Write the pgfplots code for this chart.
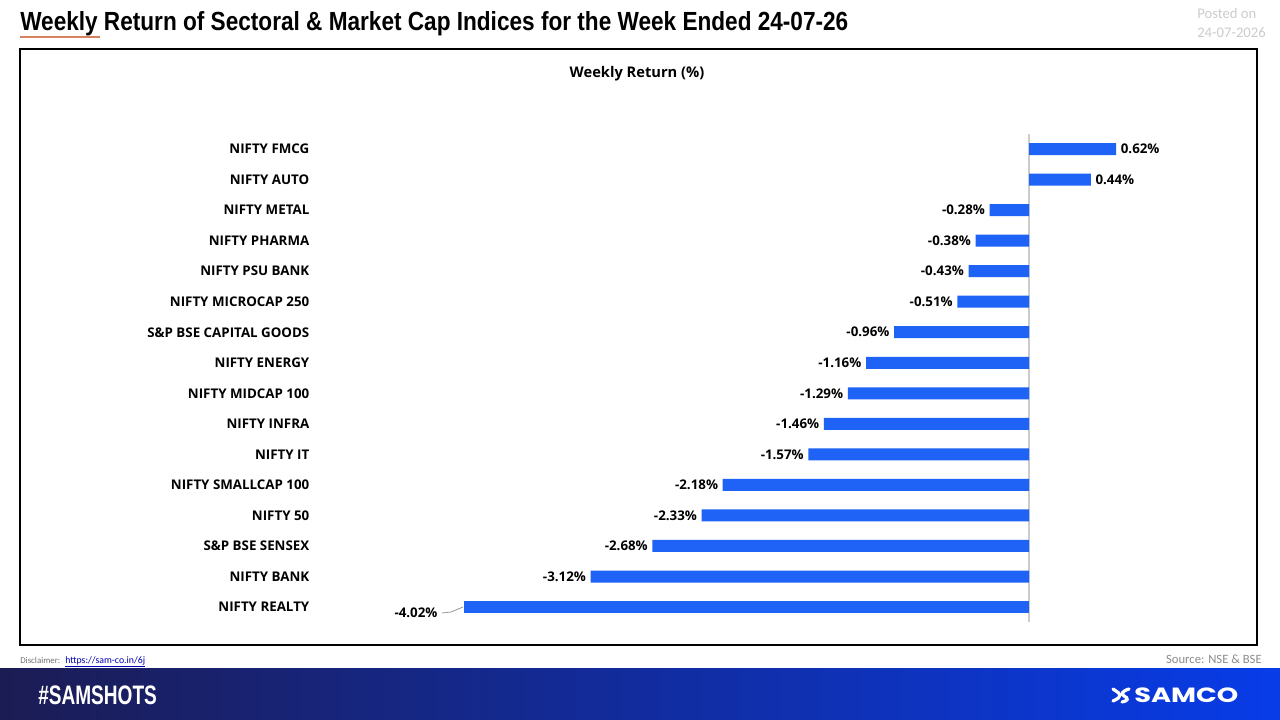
\documentclass[border=0pt]{standalone}
\usepackage{pgfplots}
\pgfplotsset{compat=1.18}
\usepackage{fontspec}
\setmainfont{Open Sans}
\newfontfamily\arialfont{Liberation Sans}
\newfontfamily\calfont{Carlito}
\newfontfamily\popfont{Poppins}
\definecolor{barblue}{RGB}{31,99,246}
\definecolor{ulorange}{RGB}{217,128,96}
\definecolor{navyL}{RGB}{28,28,84}
\definecolor{blueR}{RGB}{8,60,232}
\begin{document}
\begin{tikzpicture}[x=0.75pt,y=-0.75pt]
\useasboundingbox (0,0) rectangle (1280,720);
\fill[white] (0,0) rectangle (1280,720);
\coordinate (axpos) at (330,622.3);
% title
\node[anchor=base west, inner sep=0] at (20,31) {\resizebox{621pt}{14.25pt}{\arialfont\bfseries Weekly Return of Sectoral \& Market Cap Indices for the Week Ended 24-07-26}};
\draw[ulorange, line width=1pt] (20,37) -- (100,37);
\node[anchor=base west, inner sep=0, text=black!20, font=\calfont\fontsize{11}{12}\selectfont] at (1197,19) {Posted on};
\node[anchor=base west, inner sep=0, text=black!20, font=\calfont\fontsize{11}{12}\selectfont] at (1197,38) {24-07-2026};
% frame
\draw[black, line width=1.1pt] (20,49) rectangle (1257,645);
\node[anchor=base, inner sep=0, font=\bfseries\fontsize{11}{13}\selectfont] at (637,78) {Weekly Return (\%)};
% chart
\begin{axis}[at={(axpos)}, anchor=south west, scale only axis,
  width=675pt, height=366.4pt,
  xmin=-4.975, xmax=1.4306, ymin=-0.5, ymax=15.5,
  xbar, bar width=9pt,
  axis line style={draw=none}, clip=false,
  xtick=\empty, ytick={0,...,15}, major tick length=0pt,
  yticklabels={NIFTY REALTY,NIFTY BANK,S\&P BSE SENSEX,NIFTY 50,NIFTY SMALLCAP 100,NIFTY IT,NIFTY INFRA,NIFTY MIDCAP 100,NIFTY ENERGY,S\&P BSE CAPITAL GOODS,NIFTY MICROCAP 250,NIFTY PSU BANK,NIFTY PHARMA,NIFTY METAL,NIFTY AUTO,NIFTY FMCG},
  yticklabel style={font=\bfseries\fontsize{10}{12}\selectfont, xshift=-12pt},
  point meta=x,
  nodes near coords={\pgfmathprintnumber[fixed,fixed zerofill,precision=2,assume math mode=true]{\pgfplotspointmeta}\%},
  every node near coord/.append style={font=\bfseries\fontsize{10}{12}\selectfont, text=black},
]
\draw[black!20, line width=0.8pt] (axis cs:0,-0.5) -- (axis cs:0,15.5);
\addplot[fill=barblue, draw=none, bar shift=0pt] coordinates {
(-3.12,1) (-2.68,2) (-2.33,3) (-2.18,4) (-1.57,5) (-1.46,6) (-1.29,7) (-1.16,8)
(-0.96,9) (-0.51,10) (-0.43,11) (-0.38,12) (-0.28,13) (0.44,14) (0.62,15)
};
\addplot[fill=barblue, draw=none, bar shift=0pt,
  every node near coord/.append style={xshift=-16.5pt, yshift=-4.5pt}] coordinates {(-4.02,0)};
\end{axis}
\draw[black!40, line width=0.6pt] (442,613) -- (451,612) -- (463,607);
% footer
\node[anchor=base west, inner sep=0, text=black!55] at (20,663) {\resizebox{30pt}{!}{\calfont Disclaimer:}};
\node[anchor=base west, inner sep=0, text=blue!70!black] at (65,663) {\resizebox{60pt}{!}{\calfont\underline{https://sam-co.in/6j}}};
\node[anchor=base east, inner sep=0, text=black!45, font=\calfont\fontsize{9.5}{11}\selectfont] at (1262,663) {Source: NSE \& BSE};
\shade[left color=navyL, right color=blueR] (0,668) rectangle (1280,720);
\node[anchor=base west, inner sep=0, text=white] at (38,704) {\resizebox{89pt}{14pt}{\arialfont\bfseries \#SAMSHOTS}};
\node[anchor=base west, inner sep=0, text=white] at (1134,702) {\resizebox{78pt}{11pt}{\popfont\bfseries SAMCO}};
\draw[white, line width=2.4pt, line cap=round] (1113,689) .. controls (1119,693) .. (1120,695) .. controls (1119,698) .. (1113,701);
\draw[white, line width=2.4pt, line cap=round] (1129,689) .. controls (1122,691) and (1121,694) .. (1124,696) .. controls (1129,698) and (1128,701) .. (1122,702);
\end{tikzpicture}
\end{document}
